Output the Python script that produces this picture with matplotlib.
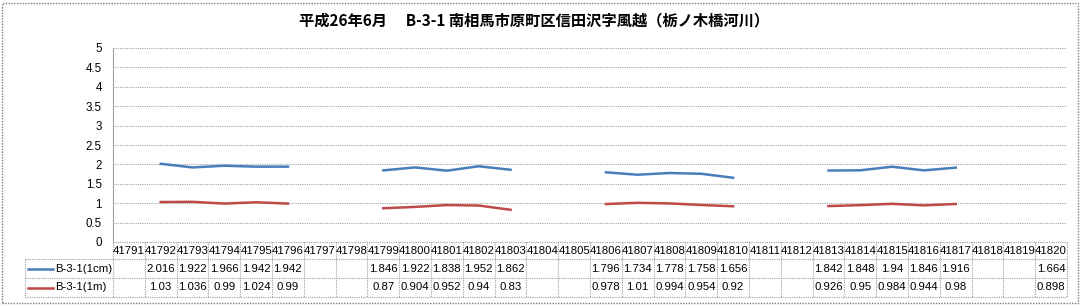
import numpy as np
import matplotlib
matplotlib.use("Agg")
import matplotlib.pyplot as plt
from matplotlib.patches import Rectangle
from matplotlib.lines import Line2D

plt.rcParams['font.family'] = ['Liberation Sans', 'Noto Sans CJK JP', 'DejaVu Sans']

title = "平成26年6月　 B-3-1 南相馬市原町区信田沢字風越（栃ノ木橋河川）"
categories = list(range(41791, 41821))
series_names = ["B-3-1(1cm)", "B-3-1(1m)"]
nan = np.nan
vals_1cm = [nan, 2.016, 1.922, 1.966, 1.942, 1.942, nan, nan,
            1.846, 1.922, 1.838, 1.952, 1.862, nan, nan,
            1.796, 1.734, 1.778, 1.758, 1.656, nan, nan,
            1.842, 1.848, 1.94, 1.846, 1.916, nan, nan, 1.664]
vals_1m = [nan, 1.03, 1.036, 0.99, 1.024, 0.99, nan, nan,
           0.87, 0.904, 0.952, 0.94, 0.83, nan, nan,
           0.978, 1.01, 0.994, 0.954, 0.92, nan, nan,
           0.926, 0.95, 0.984, 0.944, 0.98, nan, nan, 0.898]
series_vals = [vals_1cm, vals_1m]
colors = ["#4A7EBB", "#BE4B48"]
yticks = [0, 0.5, 1, 1.5, 2, 2.5, 3, 3.5, 4, 4.5, 5]

W, H = 1081, 306
fig = plt.figure(figsize=(W / 100, H / 100), dpi=100)

x0, x1, ytop, ybot = 113, 1067, 48, 242
ax = fig.add_axes([x0 / W, (H - ybot) / H, (x1 - x0) / W, (ybot - ytop) / H])

n = len(categories)
xs = np.arange(n) + 0.5
for vals, c in zip(series_vals, colors):
    ax.plot(xs, vals, color=c, lw=1.8, solid_joinstyle='round')

ax.set_xlim(0, n)
ax.set_ylim(0, 5)
ax.set_yticks(yticks)
ax.set_yticklabels([f"{t:g}" for t in yticks], fontsize=8.3)
ax.tick_params(axis='y', length=0, pad=8)
ax.set_xticks([])
for s in ['top', 'right', 'bottom']:
    ax.spines[s].set_visible(False)
ax.spines['left'].set_color('#a0a0a0')
ax.spines['left'].set_linestyle((0, (1, 1)))
ax.spines['left'].set_linewidth(0.8)
for t in yticks:
    ax.axhline(t, color='#a6a6a6', lw=0.8, ls=(0, (1, 1)), zorder=0)

# Data table below the axes
gridkw = dict(color='#a0a0a0', lw=0.8, ls=(0, (1, 1)), clip_on=False)
def py(p):
    return (ybot - p) / (ybot - ytop)
def px(p):
    return (p - x0) / (x1 - x0)

y_hdr_b = py(259)
y_r1_b = py(278)
y_r2_b = py(297)
x_leg = px(25)

tr_ax = ax.transAxes
tr_bl = ax.get_xaxis_transform()
ax.add_line(Line2D([0, 1], [0, 0], transform=tr_ax, **gridkw))
for yy in [y_hdr_b, y_r1_b, y_r2_b]:
    ax.add_line(Line2D([x_leg, 1], [yy, yy], transform=tr_ax, **gridkw))
for k in range(n + 1):
    ax.add_line(Line2D([k, k], [0, y_r2_b], transform=tr_bl, **gridkw))
ax.add_line(Line2D([x_leg, x_leg], [y_hdr_b, y_r2_b], transform=tr_ax, **gridkw))

fs = 8.2
for i, c in enumerate(categories):
    ax.text(i + 0.5, (0 + y_hdr_b) / 2, str(c), transform=tr_bl,
            ha='center', va='center', fontsize=fs)
row_centers = [(y_hdr_b + y_r1_b) / 2, (y_r1_b + y_r2_b) / 2]
for vals, yc, name, c in zip(series_vals, row_centers, series_names, colors):
    for i, v in enumerate(vals):
        if not np.isnan(v):
            ax.text(i + 0.5, yc, f"{v:g}", transform=tr_bl,
                    ha='center', va='center', fontsize=fs)
    ax.add_line(Line2D([px(28), px(53)], [yc, yc], transform=tr_ax,
                       color=c, lw=1.8, clip_on=False))
    ax.text(px(55), yc, name, transform=tr_ax, ha='left', va='center', fontsize=fs)

fig.text(534 / W, 1 - 20 / H, title, ha='center', va='center', fontsize=11,
         fontweight='bold', family=['Noto Sans CJK JP', 'DejaVu Sans'])

fig.patches.append(Rectangle((2 / W, 3 / H), (W - 5) / W, (H - 6) / H,
                             transform=fig.transFigure, fill=False,
                             edgecolor='#7f7f7f', lw=1.0, ls=(0, (1, 1))))

fig.savefig("out.png", dpi=100)
